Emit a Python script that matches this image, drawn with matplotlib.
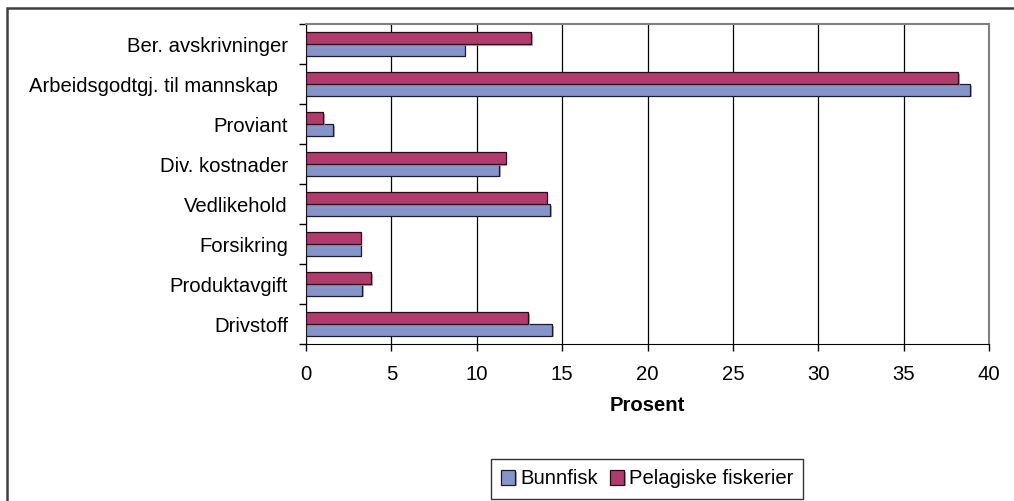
import matplotlib
matplotlib.use("Agg")
import matplotlib.pyplot as plt
import matplotlib.patheffects as pe
import matplotlib.transforms as mtransforms
from matplotlib.patches import Rectangle
import numpy as np

plt.rcParams['font.family'] = ['Liberation Sans', 'DejaVu Sans']

categories = ["Drivstoff", "Produktavgift", "Forsikring", "Vedlikehold",
              "Div. kostnader", "Proviant", "Arbeidsgodtgj. til mannskap",
              "Ber. avskrivninger"]
bunnfisk = [14.4, 3.3, 3.2, 14.3, 11.3, 1.6, 38.9, 9.3]
pelagisk = [13.0, 3.8, 3.2, 14.1, 11.7, 1.0, 38.2, 13.2]
xticks = [0, 5, 10, 15, 20, 25, 30, 35, 40]

W, H = 1014, 501
fs = 14.6
fig = plt.figure(figsize=(W / 100, H / 100), dpi=100)
ax = fig.add_axes([306 / W, 1 - 344 / H, (989 - 306) / W, (344 - 24) / H])

# outer chart frame
fig.patches.append(Rectangle((7 / W, -0.1), 1.2, 1 - 8 / H + 0.1,
                             transform=fig.transFigure, fill=False,
                             edgecolor="#404040", linewidth=1.8))

y = np.arange(len(categories))
h = 0.29
shadow = [pe.SimplePatchShadow(offset=(1.2, -1.2), shadow_rgbFace="#999999", alpha=0.8), pe.Normal()]
b1 = ax.barh(y - h / 2, bunnfisk, height=h, color="#8595CC", edgecolor="#1a1a2a",
             linewidth=0.9, label="Bunnfisk", zorder=3)
b2 = ax.barh(y + h / 2, pelagisk, height=h, color="#B03C6E", edgecolor="#2a0a18",
             linewidth=0.9, label="Pelagiske fiskerier", zorder=3)
for b in list(b1) + list(b2):
    b.set_path_effects(shadow)

ax.set_xlim(0, 40)
ax.set_ylim(-0.5, len(categories) - 0.5)
ax.set_xticks(xticks)
ax.set_yticks(y)
ax.set_yticklabels(categories)
ax.set_yticks(np.arange(-0.5, len(categories)), minor=True)
ax.tick_params(axis="y", which="major", length=0, pad=13, labelsize=fs)
ax.tick_params(axis="y", which="minor", length=5, width=1, direction="out", color="black")
ax.tick_params(axis="x", length=5, width=1, direction="out", pad=10, labelsize=fs)
# the long label sits a little further left in the original
for lbl in ax.get_yticklabels():
    if lbl.get_text().startswith("Arbeids"):
        lbl.set_transform(lbl.get_transform() +
                          mtransforms.ScaledTranslation(-10 / 100, 0, fig.dpi_scale_trans))
ax.grid(axis="x", color="black", linewidth=0.9, zorder=0)
ax.set_axisbelow(True)
for s in ["top", "right"]:
    ax.spines[s].set_color("#808080")
    ax.spines[s].set_linewidth(1.5)
ax.spines["left"].set_color("black")
ax.spines["bottom"].set_color("black")
ax.set_xlabel("Prosent", fontsize=fs, fontweight="bold", labelpad=9)

fig.legend(handles=[b1, b2], loc="center",
           bbox_to_anchor=((488 + 806) / 2 / W, 1 - 479 / H),
           ncol=2, frameon=True, fancybox=False, edgecolor="black",
           fontsize=fs, handlelength=0.7, handleheight=0.7, handletextpad=0.25,
           columnspacing=0.6, borderpad=0.5, borderaxespad=0)

fig.savefig("out.png", dpi=100)
